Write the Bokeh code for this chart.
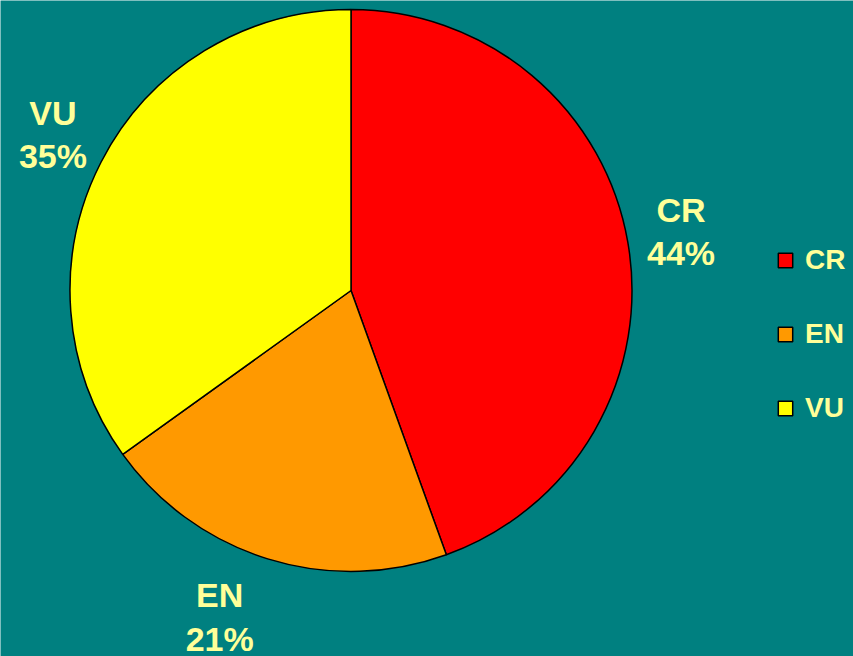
import math
from bokeh.plotting import figure
from bokeh.models import ColumnDataSource, Range1d, Legend, LegendItem
from bokeh.core.properties import value
from bokeh.embed import file_html
from bokeh.resources import INLINE

# ---- data ----
categories = ["CR", "EN", "VU"]
percents = [44.49, 20.6, 34.91]
colors = ["#FF0000", "#FF9900", "#FFFF00"]

BG = "#008080"
TXT = "#FFFF99"
W, H = 853, 656

p = figure(width=W, height=H, output_backend="svg", toolbar_location=None,
           x_range=Range1d(0, W), y_range=Range1d(0, H), min_border=0)
p.axis.visible = False
p.grid.visible = False
p.background_fill_color = BG
p.border_fill_color = BG
p.outline_line_color = None

cx, cy, r = 350.5, 366.0, 281.0
total = sum(percents)
label_nudge_x = [0, -32, 0]
starts, ends, lx, ly, labels = [], [], [], [], []
a = math.pi / 2
box_w, box_h = 70, 84
gap = 19
for i, (cat, v) in enumerate(zip(categories, percents)):
    sweep = 2 * math.pi * v / total
    starts.append(a)
    ends.append(a - sweep)
    mid = a - sweep / 2
    dx, dy = math.cos(mid), math.sin(mid)
    lx.append(cx + dx * (r + gap) + dx * box_w / 2 + label_nudge_x[i])
    ly.append(cy + dy * (r + gap) + dy * box_h / 2)
    labels.append(f"{cat}\n{round(v / total * 100)}%")
    a -= sweep

src = ColumnDataSource(dict(cat=categories, start=starts, end=ends, color=colors,
                            lx=lx, ly=ly, label=labels))

wr = p.wedge(x=cx, y=cy, radius=r, start_angle="start", end_angle="end",
             direction="clock", fill_color="color", line_color="black",
             line_width=1.5, source=src)

p.text(x="lx", y="ly", text="label", source=src, text_align="center",
       text_baseline="middle", text_font=value("Liberation Sans"),
       text_font_style="bold", text_font_size="34px", text_color=TXT,
       text_line_height=1.15)

items = [LegendItem(label=c, renderers=[wr], index=i) for i, c in enumerate(categories)]
legend = Legend(items=items, location=(776, 232), orientation="vertical",
                glyph_width=18, glyph_height=18, label_height=18,
                label_standoff=11, spacing=42, padding=0, margin=0,
                background_fill_alpha=0, border_line_color=None,
                label_text_font="Liberation Sans", label_text_font_style="bold",
                label_text_font_size="28px", label_text_color=TXT)
p.add_layout(legend, "center")

html = file_html(p, INLINE)
html = html.replace("<body", '<body style="margin:0;background:#008080;"', 1)
open("out.html", "w").write(html)
